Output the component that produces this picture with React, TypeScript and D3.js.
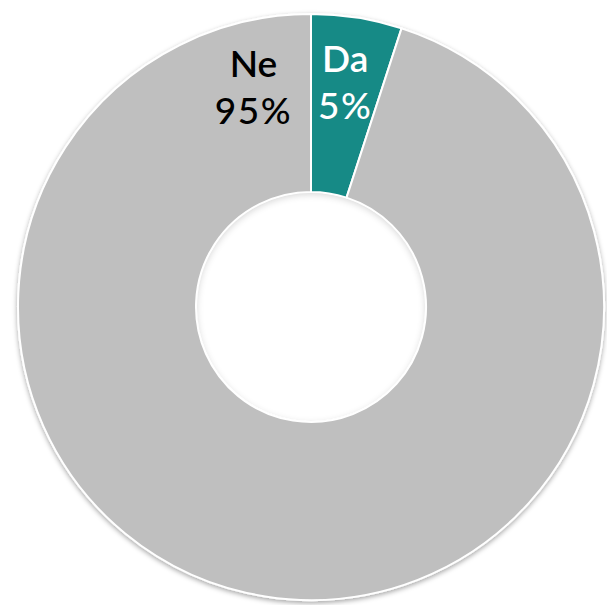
import * as d3 from "d3";

const WIDTH = 607;
const HEIGHT = 605;

// chart values
const categories = ["Da", "Ne"];
const values = [5, 95];
const colors = ["#178A86", "#BFBFBF"];
const labelColors = ["#FFFFFF", "#000000"];

const CENTER = { x: 311, y: 307 };
const OUTER = 293;
const INNER = 115;
const LABEL_R = 218;

const App = () => {
  const pie = d3
    .pie<number>()
    .sort(null)
    .value((d) => d);
  const arcs = pie(values);

  const arc = d3
    .arc<d3.PieArcDatum<number>>()
    .innerRadius(INNER)
    .outerRadius(OUTER);

  const labelArc = d3
    .arc<d3.PieArcDatum<number>>()
    .innerRadius(LABEL_R)
    .outerRadius(LABEL_R);

  // the big slice's label sits near the top, mirrored past the start line
  const labelPos = (a: d3.PieArcDatum<number>, i: number) => {
    if (i === 0) return labelArc.centroid(a);
    const ang = -(15.3 * Math.PI) / 180;
    return [LABEL_R * Math.sin(ang), -LABEL_R * Math.cos(ang)];
  };

  return (
    <svg
      width={WIDTH}
      height={HEIGHT}
      style={{ position: "absolute", left: 0, top: 0, background: "#fff" }}
    >
      <defs>
        <filter id="shadow" x="-10%" y="-10%" width="120%" height="120%">
          <feDropShadow dx="0" dy="2" stdDeviation="2.5" floodColor="#000" floodOpacity="0.35" />
        </filter>
        <filter id="innerShadow" x="-10%" y="-10%" width="120%" height="120%">
          <feGaussianBlur in="SourceAlpha" stdDeviation="3" result="blur" />
          <feOffset dy="2" result="off" />
          <feComposite in="off" in2="SourceAlpha" operator="arithmetic" k2="-1" k3="1" result="sh" />
          <feFlood floodColor="#000" floodOpacity="0.3" />
          <feComposite in2="sh" operator="in" />
          <feMerge>
            <feMergeNode in="SourceGraphic" />
            <feMergeNode />
          </feMerge>
        </filter>
      </defs>
      <g transform={`translate(${CENTER.x},${CENTER.y})`}>
        <g filter="url(#shadow)">
          {arcs.map((a, i) => (
            <path
              key={categories[i]}
              d={arc(a) ?? ""}
              fill={colors[i]}
              stroke="#fff"
              strokeWidth={2}
            />
          ))}
        </g>
        <circle r={INNER - 1} fill="#fff" filter="url(#innerShadow)" />
        {arcs.map((a, i) => {
          const [x, y] = labelPos(a, i);
          return (
            <text
              key={categories[i] + "-l"}
              x={x}
              y={y}
              textAnchor="middle"
              fontFamily="Lato, 'Noto Sans', sans-serif"
              fontSize={37}
              fill={labelColors[i]}
            >
              <tspan x={x} dy={-20} fontWeight={600}>
                {categories[i]}
              </tspan>
              <tspan x={x} dy={47} fontWeight={500} letterSpacing={1.5}>
                {values[i]}%
              </tspan>
            </text>
          );
        })}
      </g>
    </svg>
  );
};

export default App;
